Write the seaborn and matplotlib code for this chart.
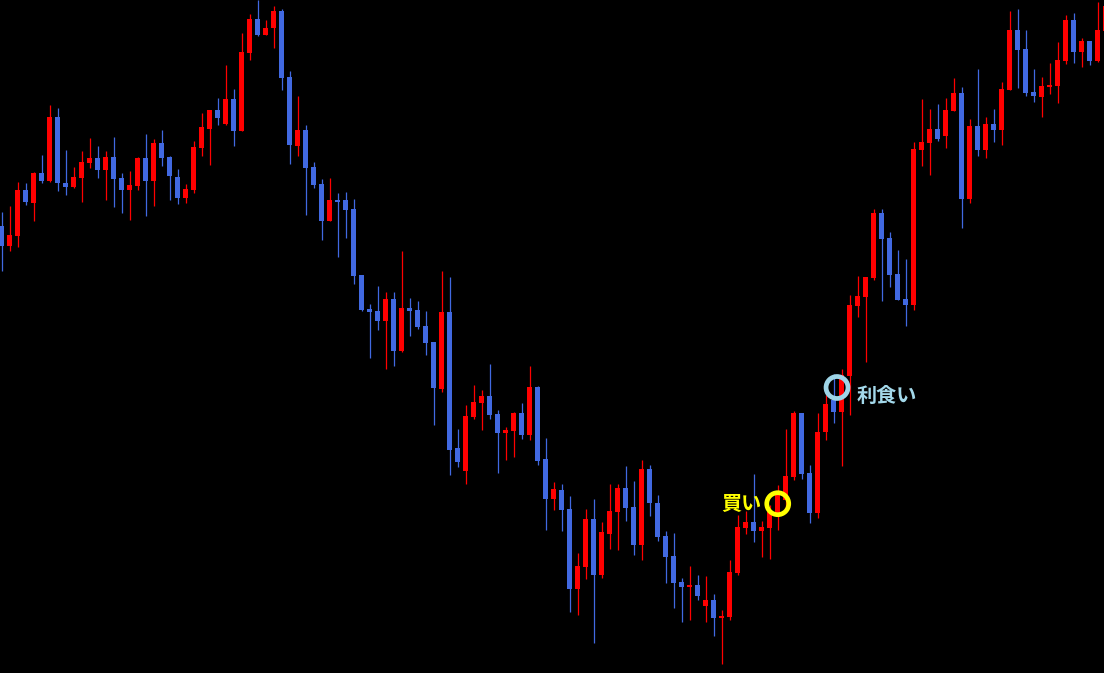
import numpy as np
import matplotlib
matplotlib.use("Agg")
import matplotlib.pyplot as plt
import seaborn as sns

# Candle data (levels measured from the top of the chart, so the axis is inverted)
opens = [226, 246, 236, 190, 203, 173, 181, 117, 183, 187, 178, 163, 158, 170, 157, 178, 190, 186, 158, 181,
         143, 157, 177, 198, 190, 148, 129, 110, 124, 99, 131, 53, 19, 35, 28, 11, 77, 146, 130, 167,
         184, 221, 200, 200, 209, 275, 309, 311, 321, 299, 351, 308, 310, 326, 342, 389, 312, 448, 471, 417,
         403, 396, 414, 433, 431, 413, 435, 387, 459, 499, 490, 509, 589, 567, 519, 575, 534, 512, 488, 507,
         545, 469, 503, 536, 556, 582, 587, 585, 606, 600, 618, 617, 573, 528, 522, 531, 528, 513, 500, 477,
         413, 473, 513, 432, 400, 412, 376, 306, 297, 278, 213, 238, 274, 299, 305, 150, 143, 129, 136, 111,
         93, 199, 126, 150, 124, 130, 90, 30, 49, 92, 97, 87, 86, 61, 20, 52, 41, 61, 31]
highs = [212, 206, 182, 183, 172, 155, 105, 108, 150, 167, 151, 138, 146, 151, 137, 173, 171, 157, 134, 139,
         130, 156, 169, 184, 141, 113, 110, 98, 65, 89, 33, 14, 0, 20, 6, 9, 71, 96, 125, 162,
         179, 178, 193, 192, 199, 275, 304, 286, 292, 292, 251, 298, 301, 311, 342, 271, 277, 429, 405, 385,
         390, 364, 410, 427, 412, 403, 366, 386, 438, 482, 484, 496, 553, 509, 499, 522, 484, 484, 466, 481,
         460, 465, 495, 531, 533, 578, 566, 575, 576, 594, 610, 560, 515, 511, 474, 521, 505, 485, 429, 411,
         413, 465, 413, 395, 374, 369, 295, 276, 277, 209, 209, 232, 250, 259, 142, 99, 109, 104, 98, 78,
         87, 119, 69, 117, 109, 82, 11, 9, 30, 69, 77, 63, 42, 15, 13, 38, 41, 2, 0]
lows = [271, 251, 247, 205, 221, 183, 182, 191, 195, 188, 202, 168, 178, 200, 207, 213, 220, 190, 216, 206,
        166, 200, 204, 203, 193, 156, 165, 125, 125, 146, 131, 60, 36, 35, 48, 90, 164, 156, 215, 188,
        240, 221, 257, 238, 284, 311, 358, 330, 369, 366, 352, 336, 329, 355, 425, 392, 475, 467, 484, 419,
        430, 419, 473, 460, 457, 439, 440, 465, 530, 510, 531, 612, 615, 579, 643, 578, 549, 550, 521, 555,
        560, 516, 541, 583, 608, 622, 620, 600, 622, 636, 664, 620, 575, 534, 542, 557, 559, 530, 510, 480,
        479, 523, 518, 440, 423, 466, 415, 317, 362, 280, 301, 287, 300, 326, 310, 166, 175, 141, 148, 111,
        228, 203, 156, 158, 142, 145, 90, 88, 96, 102, 117, 94, 103, 64, 63, 67, 65, 62, 40]
closes = [246, 235, 190, 202, 173, 181, 117, 183, 187, 177, 162, 158, 170, 157, 179, 190, 185, 158, 181, 143,
          158, 176, 198, 189, 147, 127, 110, 118, 99, 131, 52, 19, 35, 28, 11, 78, 145, 130, 168, 185,
          221, 200, 202, 210, 276, 310, 312, 321, 299, 351, 308, 311, 327, 343, 388, 312, 450, 462, 416, 402,
          396, 415, 433, 430, 413, 435, 387, 461, 499, 489, 510, 589, 566, 519, 575, 532, 511, 488, 508, 545,
          469, 503, 537, 557, 583, 587, 585, 596, 600, 618, 616, 572, 527, 522, 531, 527, 512, 493, 476, 413,
          474, 513, 432, 404, 412, 375, 305, 296, 277, 213, 239, 275, 300, 305, 149, 142, 129, 139, 110, 93,
          199, 126, 150, 124, 130, 89, 30, 50, 93, 96, 86, 85, 60, 20, 52, 41, 61, 30, 6]

buy_label = "買い"
take_profit_label = "利食い"

sns.set_theme(style="dark", rc={"axes.facecolor": "black", "figure.facecolor": "black"})
plt.rcParams["font.family"] = ["Noto Sans CJK JP", "DejaVu Sans"]

o = np.array(opens, dtype=float)
h = np.array(highs, dtype=float)
l = np.array(lows, dtype=float)
c = np.array(closes, dtype=float)
x = np.arange(len(o))

up = c < o  # price rises upwards, i.e. smaller level
colors = np.where(up, "#ff0000", "#4169e1")

fig = plt.figure(figsize=(11.04, 6.73), dpi=100)
ax = fig.add_axes([0, 0, 1, 1])

# wicks
ax.vlines(x, h, l, colors=colors, linewidth=0.9, zorder=2)

# bodies
bottom = np.minimum(o, c)
height = np.maximum(np.abs(o - c), 1.5)
ax.bar(x, height, bottom=bottom, width=0.62, color=colors, linewidth=0, zorder=3)

# markers for the entry and exit
ax.scatter([97.03], [503.7], s=250, facecolors="none", edgecolors="#ffff00", linewidths=3.4, zorder=5)
ax.scatter([104.44], [387.5], s=250, facecolors="none", edgecolors="#9fd6e8", linewidths=3.4, zorder=5)

ax.text(95.0, 503, buy_label, color="#ffff00", fontsize=14.5, fontweight="bold",
        ha="right", va="center", zorder=6)
ax.text(106.9, 395, take_profit_label, color="#a3d8ea", fontsize=14.5, fontweight="bold",
        ha="left", va="center", zorder=6)

ax.set_xlim(-0.1875, 137.8125)
ax.set_ylim(673, 0)
ax.set_xticks([])
ax.set_yticks([])
for s in ax.spines.values():
    s.set_visible(False)

fig.savefig("out.png", dpi=100, facecolor="black")
